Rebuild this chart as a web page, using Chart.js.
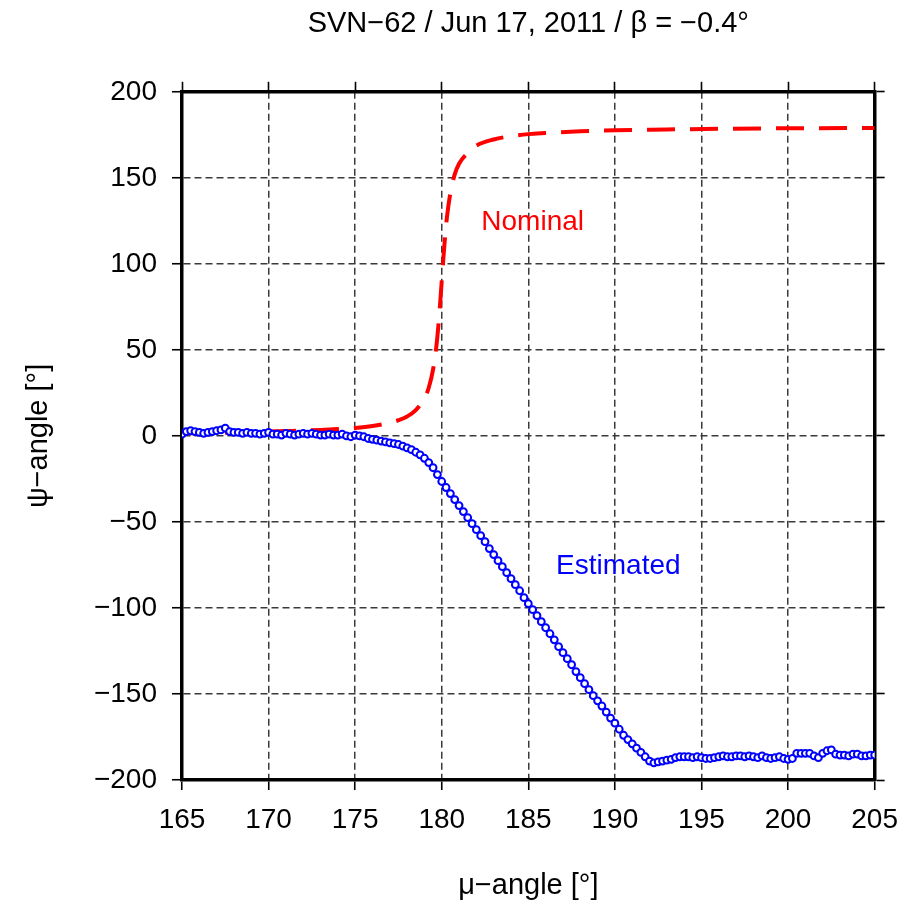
<!DOCTYPE html>
<html>
<head>
<meta charset="utf-8">
<script src="https://cdn.jsdelivr.net/npm/chart.js@4.4.0/dist/chart.umd.min.js"></script>
<style>
  html, body { margin: 0; padding: 0; background: #fff; }
  #wrap { width: 911px; height: 906px; }
</style>
</head>
<body>
<div id="wrap"><canvas id="myChart" width="911" height="906"></canvas></div>
<script>
// estimated yaw (circles)
const muEst = [
  165, 165.25, 165.5, 165.75, 166, 166.25, 166.5, 166.75,
  167, 167.25, 167.5, 167.75, 168, 168.25, 168.5, 168.75,
  169, 169.25, 169.5, 169.75, 170, 170.25, 170.5, 170.75,
  171, 171.25, 171.5, 171.75, 172, 172.25, 172.5, 172.75,
  173, 173.25, 173.5, 173.75, 174, 174.25, 174.5, 174.75,
  175, 175.25, 175.5, 175.75, 176, 176.25, 176.5, 176.75,
  177, 177.25, 177.5, 177.75, 178, 178.25, 178.5, 178.75,
  179, 179.25, 179.5, 179.75, 180, 180.25, 180.5, 180.75,
  181, 181.25, 181.5, 181.75, 182, 182.25, 182.5, 182.75,
  183, 183.25, 183.5, 183.75, 184, 184.25, 184.5, 184.75,
  185, 185.25, 185.5, 185.75, 186, 186.25, 186.5, 186.75,
  187, 187.25, 187.5, 187.75, 188, 188.25, 188.5, 188.75,
  189, 189.25, 189.5, 189.75, 190, 190.25, 190.5, 190.75,
  191, 191.25, 191.5, 191.75, 192, 192.25, 192.5, 192.75,
  193, 193.25, 193.5, 193.75, 194, 194.25, 194.5, 194.75,
  195, 195.25, 195.5, 195.75, 196, 196.25, 196.5, 196.75,
  197, 197.25, 197.5, 197.75, 198, 198.25, 198.5, 198.75,
  199, 199.25, 199.5, 199.75, 200, 200.25, 200.5, 200.75,
  201, 201.25, 201.5, 201.75, 202, 202.25, 202.5, 202.75,
  203, 203.25, 203.5, 203.75, 204, 204.25, 204.5, 204.75,
  205
];
const psiEst = [
  1, 2.5, 3, 2.5, 2, 1.5, 2, 2.5,
  3, 3.5, 4.5, 2.5, 2, 2, 1.5, 2,
  1.5, 1.5, 1, 1.5, 2, 1, 1, 0.5,
  1.5, 1, 0.5, 1, 1.5, 1, 1.5, 1,
  0.5, 0.5, 1, 0.5, 0.5, 1, 0, -0.5,
  0.5, 0, -0.5, -1.5, -2, -2.5, -3, -3.5,
  -4, -4.5, -5, -6, -7, -8, -9.5, -11,
  -13, -15.5, -18.5, -22.5, -26.5, -30, -33.5, -37,
  -40.5, -44, -47.5, -51, -54.5, -58, -61.5, -65.5,
  -69, -72.5, -76, -79.5, -83, -86.5, -90, -94,
  -97.5, -101, -104.5, -108, -111.5, -115, -118.5, -122.5,
  -126, -129.5, -133, -137, -140.5, -144, -147.5, -151,
  -154, -157, -160.5, -164, -167, -170.5, -174, -176.5,
  -179, -181.5, -184, -186.5, -189, -190, -189.5, -189,
  -188.5, -188, -187, -186.5, -186.5, -186.5, -187, -186.5,
  -187, -187.5, -187.5, -187, -186.5, -186, -186.5, -186.5,
  -186, -186, -186.5, -186, -186.5, -187, -186, -187,
  -187.5, -187, -186.5, -187.5, -188, -187.5, -184.5, -184.5,
  -184.5, -184.5, -186, -187, -184.5, -183, -182.5, -185,
  -185.5, -185.5, -186, -185, -185, -186, -186, -185.5,
  -185.5
];

// nominal yaw (dashed)
const muNom = [165, 166, 167, 168, 169, 170, 171, 172, 173, 174, 175, 176, 177, 177.5, 178, 178.5,
  179, 179.25, 179.5, 179.7, 179.8, 179.9, 180, 180.1, 180.2, 180.3, 180.5, 180.75, 181, 181.5,
  182, 183, 184, 185, 186, 188, 190, 193, 196, 200, 205];
const psiNom = [1.5, 1.6, 1.8, 2.0, 2.2, 2.5, 2.8, 3.1, 3.5, 4.0, 4.6, 5.7, 7.6, 9.1, 11.3, 15,
  21.8, 28, 38.7, 53, 63.4, 76, 90, 104, 116.6, 127, 141.3, 152, 158.2, 164.5,
  168.7, 172.3, 174.2, 175.4, 176, 177, 177.6, 178.1, 178.5, 178.8, 179];

// in-plot labels (data coords)
const labelNames = ['Nominal', 'Estimated'];
const labelMu = [185.25, 190.2];
const labelPsi = [124, -76];

const titleText = 'SVN\u221262 / Jun 17, 2011 / \u03b2 = \u22120.4\u00b0';
const FONT = "'Liberation Sans', Arial, Helvetica, sans-serif";

const estPoints = muEst.map((m, i) => ({ x: m, y: psiEst[i] }));
const nomPoints = muNom.map((m, i) => ({ x: m, y: psiNom[i] }));

const minusFmt = v => String(v).replace('-', '\u2212');

const curveLabels = {
  id: 'curveLabels',
  afterDatasetsDraw(chart) {
    const ctx = chart.ctx;
    const xs = chart.scales.x, ys = chart.scales.y;
    ctx.save();
    ctx.font = "28px " + FONT;
    ctx.textAlign = 'center';
    ctx.textBaseline = 'middle';
    labelNames.forEach((name, i) => {
      ctx.fillStyle = chart.data.datasets[i].labelColor;
      ctx.fillText(name, xs.getPixelForValue(labelMu[i]), ys.getPixelForValue(labelPsi[i]));
    });
    ctx.restore();
  }
};

const gridOpts = {
  color: '#3a3a3a',
  lineWidth: 1.5,
  tickColor: '#000',
  tickWidth: 1.6,
  tickLength: 10,
  tickBorderDash: []
};
const borderOpts = { color: '#000', width: 3.5, dash: [7, 4] };
const tickFont = { family: FONT, size: 28 };

const config = {
  type: 'scatter',
  data: {
    datasets: [
      {
        label: 'Nominal',
        data: nomPoints,
        showLine: true,
        borderColor: '#ff0000',
        labelColor: '#ff0000',
        borderWidth: 4,
        borderDash: [28, 15],
        pointRadius: 0,
        cubicInterpolationMode: 'monotone',
        order: 2
      },
      {
        label: 'Estimated',
        data: estPoints,
        showLine: false,
        borderColor: '#0000ff',
        labelColor: '#0000ff',
        backgroundColor: '#ffffff',
        pointBackgroundColor: '#ffffff',
        pointBorderColor: '#0000ff',
        pointBorderWidth: 2,
        pointRadius: 3.4,
        order: 1
      }
    ]
  },
  options: {
    responsive: false,
    animation: false,
    devicePixelRatio: 1,
    layout: { padding: { left: 0, right: 26, top: 0, bottom: 0 } },
    plugins: {
      legend: { display: false },
      tooltip: { enabled: false },
      title: {
        display: true,
        text: titleText,
        fullSize: false,
        color: '#000',
        font: { family: FONT, size: 29, weight: 'normal' },
        padding: { top: 7, bottom: 40 }
      }
    },
    scales: {
      x: {
        type: 'linear',
        position: 'bottom',
        min: 165, max: 205,
        ticks: { stepSize: 5, color: '#000', font: tickFont, padding: 13, maxRotation: 0 },
        grid: gridOpts,
        border: borderOpts,
        title: {
          display: true,
          text: '\u03bc\u2212angle [\u00b0]',
          color: '#000',
          font: { family: FONT, size: 29 },
          padding: { top: 0, bottom: 3 }
        },
        afterFit(scale) { scale.height = 126; }
      },
      x2: {
        type: 'linear',
        position: 'top',
        min: 165, max: 205,
        ticks: { stepSize: 5, display: false },
        grid: { drawOnChartArea: false, color: '#000', tickColor: '#000', tickWidth: 1.6, tickLength: 10 },
        border: { color: '#000', width: 3.5 }
      },
      y: {
        type: 'linear',
        position: 'left',
        min: -200, max: 200,
        ticks: { stepSize: 50, color: '#000', font: tickFont, padding: 15, callback: minusFmt },
        grid: gridOpts,
        border: borderOpts,
        title: {
          display: true,
          text: '\u03c8\u2212angle [\u00b0]',
          color: '#000',
          font: { family: FONT, size: 29 },
          padding: { top: 22, bottom: 0 }
        },
        afterFit(scale) { scale.width = 182; }
      },
      y2: {
        type: 'linear',
        position: 'right',
        min: -200, max: 200,
        ticks: { stepSize: 50, display: false },
        grid: { drawOnChartArea: false, color: '#000', tickColor: '#000', tickWidth: 1.6, tickLength: 10 },
        border: { color: '#000', width: 3.5 }
      }
    }
  },
  plugins: [curveLabels]
};

const myChart = new Chart('myChart', config);
</script>
</body>
</html>
